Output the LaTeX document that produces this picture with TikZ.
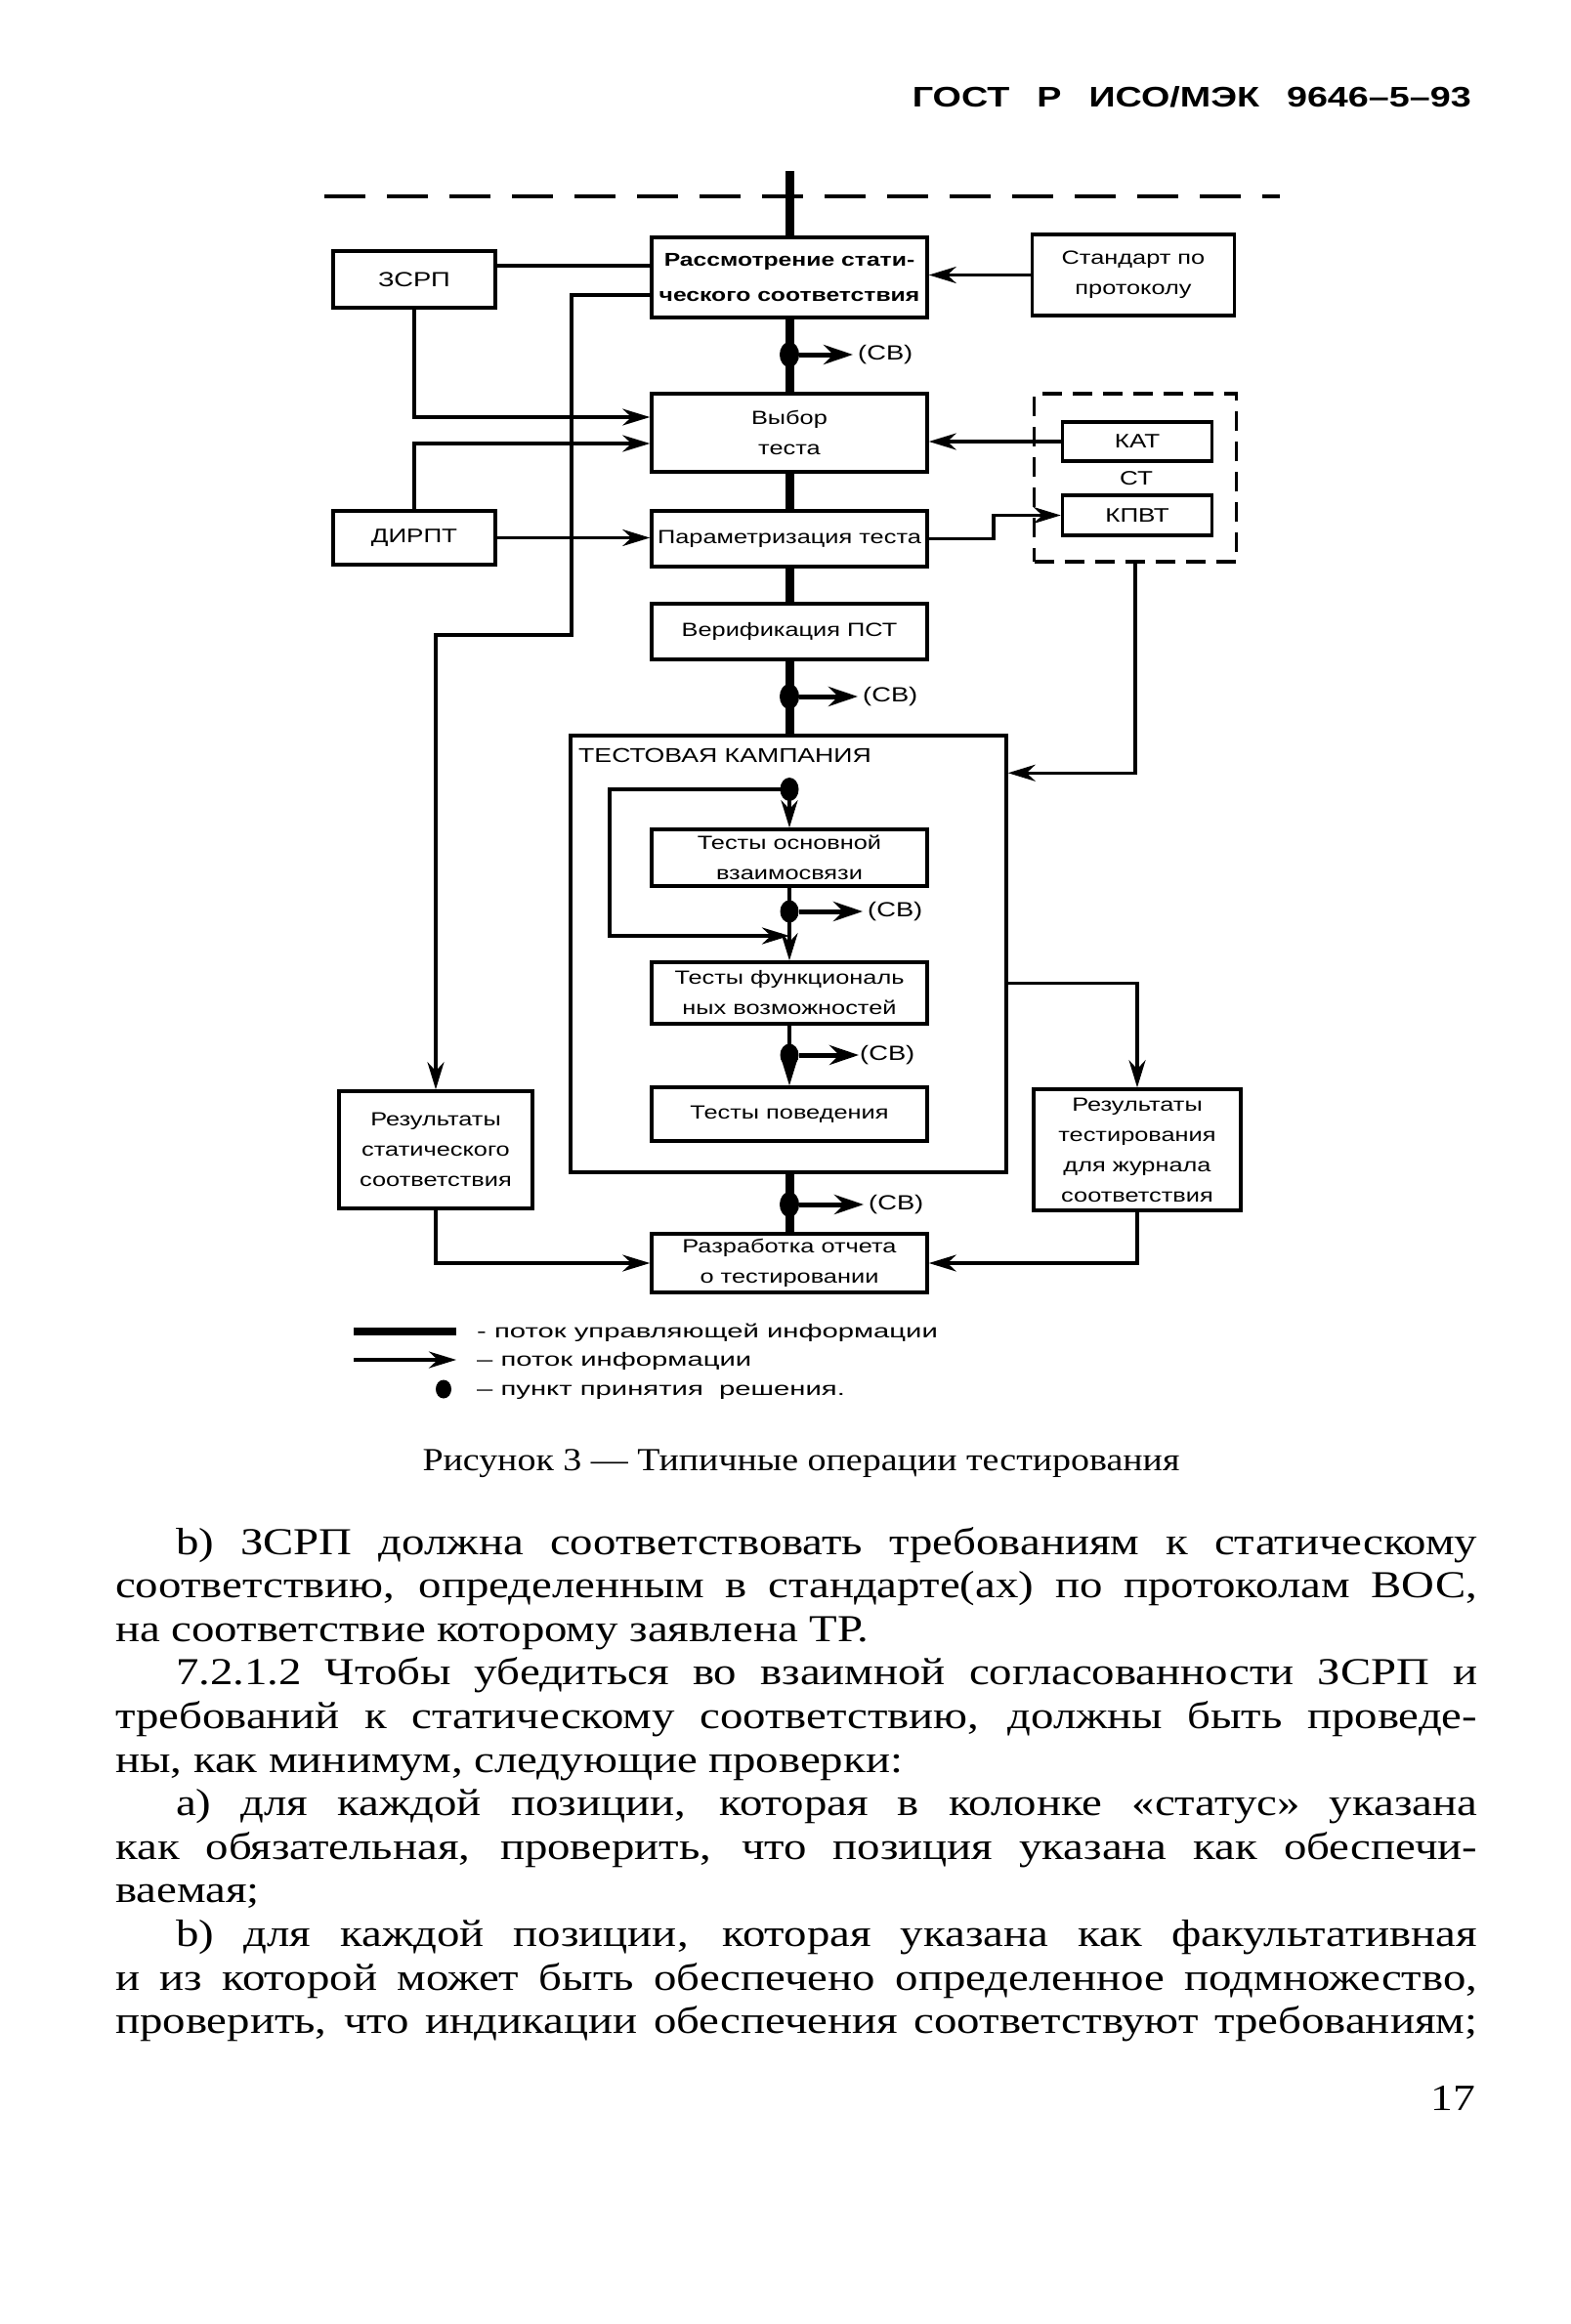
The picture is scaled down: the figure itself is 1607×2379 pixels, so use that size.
\documentclass[tikz,border=0pt]{standalone}
\usepackage{fontspec}
\setmainfont{Liberation Serif}
\newfontfamily\bodyf[FakeStretch=1.2]{Liberation Serif}
\newfontfamily\capf[FakeStretch=1.15]{Liberation Serif}
\newfontfamily\dsans[FakeStretch=1.3]{Liberation Sans}
\newfontfamily\lsans[FakeStretch=1.5]{Liberation Sans}
\newfontfamily\hdrf[FakeStretch=1.3]{Liberation Sans}
\usetikzlibrary{arrows.meta,shapes.geometric,calc}
\begin{document}
\begin{tikzpicture}[x=1pt,y=-1pt,
  box/.style={draw, line width=3.5pt, inner sep=0pt, align=center, font=\dsans\fontsize{19.5}{31}\selectfont},
  info/.style={line width=3.2pt, -{Stealth[length=28pt,width=17pt,inset=9pt]}},
  plainln/.style={line width=3.2pt},
  ctrl/.style={line width=9pt},
  innerln/.style={line width=4pt, -{Stealth[length=28pt,width=17pt,inset=9pt]}},
  cbar/.style={line width=5pt, -{Stealth[length=30pt,width=20pt,inset=10pt]}},
  dotn/.style={ellipse, fill=black, inner sep=0pt, minimum width=20pt, minimum height=26pt},
  cvlab/.style={anchor=west, inner sep=0pt, font=\dsans\fontsize{21}{26}\selectfont},
  bodyl/.style={anchor=base west, inner sep=0pt, font=\bodyf\fontsize{39}{44}\selectfont},
  leg/.style={anchor=base west, inner sep=0pt, font=\lsans\fontsize{19.5}{24}\selectfont},
  dashbox/.style={draw, line width=3.5pt, dash pattern=on 20pt off 11pt, inner sep=0pt}
]
\fill[white] (0,0) rectangle (1607,2379);
\useasboundingbox (0,0) rectangle (1607,2379);

% header
\node[anchor=base east, inner sep=0pt, font=\hdrf\bfseries\fontsize{29}{32}\selectfont] (hdr) at (1506,110)
  {\makebox[572pt][s]{ГОСТ Р ИСО/МЭК 9646–5–93}};

% top dashed line
\coordinate (tl) at (332,201);
\coordinate (tr) at (1310,201);
\draw[line width=3.5pt, dash pattern=on 42pt off 22pt] (tl) -- (tr);

% main column boxes
\node[box, font=\dsans\bfseries\fontsize{19}{36}\selectfont, minimum width=282pt, minimum height=82pt] (rs) at (808,284) {Рассмотрение стати-\\ческого соответствия};
\node[box, minimum width=282pt, minimum height=80pt] (vb) at (808,443) {Выбор\\теста};
\node[box, minimum width=282pt, minimum height=57pt] (pt) at (808,551.5) {Параметризация теста};
\node[box, minimum width=282pt, minimum height=57pt] (vf) at (808,646.5) {Верификация ПСТ};
\node[draw, line width=3.5pt, inner sep=0pt, minimum width=446pt, minimum height=447pt] (camp) at (807,976.5) {};
\node[anchor=west, inner sep=0pt, font=\dsans\fontsize{20.5}{24}\selectfont] (campl) at (592,773) {ТЕСТОВАЯ КАМПАНИЯ};
\node[box, minimum width=282pt, minimum height=58pt] (t1) at (808,878) {Тесты основной\\взаимосвязи};
\node[box, minimum width=282pt, minimum height=63pt] (t2) at (808,1016.5) {Тесты функциональ\\ных возможностей};
\node[box, minimum width=282pt, minimum height=55pt] (t3) at (808,1140.5) {Тесты поведения};
\node[box, minimum width=282pt, minimum height=60pt] (rep) at (808,1293) {Разработка отчета\\о тестировании};

% left boxes
\node[box, font=\dsans\fontsize{21}{26}\selectfont, minimum width=166pt, minimum height=58pt] (zs) at (424,286) {ЗСРП};
\node[box, font=\dsans\fontsize{20}{26}\selectfont, minimum width=166pt, minimum height=55pt] (dr) at (424,550.5) {ДИРПТ};
\node[box, minimum width=198pt, minimum height=120pt] (rsr) at (446,1177) {Результаты\\статического\\соответствия};

% right boxes
\node[box, minimum width=207pt, minimum height=83pt] (std) at (1160,281.5) {Стандарт по\\протоколу};
\node[dashbox, minimum width=207pt, minimum height=172pt] (ctb) at (1162,489) {};
\node[box, font=\dsans\fontsize{20}{26}\selectfont, minimum width=153pt, minimum height=40pt] (kat) at (1164,452) {КАТ};
\node[inner sep=0pt, font=\dsans\fontsize{20}{26}\selectfont] (ctl) at (1163,490) {СТ};
\node[box, font=\dsans\fontsize{20}{26}\selectfont, minimum width=153pt, minimum height=41pt] (kpvt) at (1164,527.5) {КПВТ};
\node[box, minimum width=212pt, minimum height=124pt] (rtr) at (1164,1177) {Результаты\\тестирования\\для журнала\\соответствия};

% coordinates
\coordinate (top) at (808,175);
\coordinate (c1) at (808,363);
\coordinate (c2) at (808,713);
\coordinate (cA) at (808,808);
\coordinate (c3) at (808,933);
\coordinate (c4) at (808,1080);
\coordinate (c5) at (808,1233);
\coordinate (j1) at (585,650);
\coordinate (j2) at (1017,551.5);
\coordinate (lb) at (624,958);
\coordinate (lc) at (808,958);

% control flow
\draw[ctrl] (top) -- (rs.north);
\draw[ctrl] (rs.south) -- (vb.north);
\draw[ctrl] (vb.south) -- (pt.north);
\draw[ctrl] (pt.south) -- (vf.north);
\draw[ctrl] (vf.south) -- (vf.south |- camp.north);
\draw[ctrl] (rep.north |- camp.south) -- (rep.north);

% information flow
\draw[plainln] ([yshift=14pt]zs.east) -- ([yshift=14pt]zs.east -| rs.west);
\draw[info] (std.west) -- (std.west -| rs.east);
\draw[info] ([yshift=-18pt]rs.west) -| (j1) -| (rsr.north);
\draw[info] (zs.south) |- ([yshift=16pt]vb.west);
\draw[info] (dr.north) |- ([yshift=-11pt]vb.west);
\draw[info] (dr.east) -- (dr.east -| pt.west);
\draw[info] (kat.west) -- (kat.west -| vb.east);
\draw[info] (pt.east) -- (j2) |- (kpvt.west);
\draw[info] (ctb.south) |- ($(camp.north east)+(0,40)$);
\draw[info] ($(camp.north east)+(0,255)$) -| (rtr.north);
\draw[info] (rsr.south) |- (rep.west);
\draw[info] (rtr.south) |- (rep.east);

% inside campaign
\draw[innerln] (cA) -- (t1.north);
\draw[innerln] (cA) -- (cA -| lb) -- (lb) -- (lc);
\draw[innerln] (t1.south) -- (t2.north);
\draw[innerln] (t2.south) -- (t3.north);

% decision points
\node[dotn] (d1) at (c1) {};
\node[dotn] (d2) at (c2) {};
\node[dotn, minimum width=19pt, minimum height=24pt] (dA) at (cA) {};
\node[dotn, minimum width=19pt, minimum height=23pt] (d3) at (c3) {};
\node[dotn, minimum width=19pt, minimum height=23pt] (d4) at (c4) {};
\node[dotn] (d5) at (c5) {};

\node[cvlab] (cv1) at (878,363) {(СВ)};
\node[cvlab] (cv2) at (883,713) {(СВ)};
\node[cvlab] (cv3) at (888,933) {(СВ)};
\node[cvlab] (cv4) at (880,1080) {(СВ)};
\node[cvlab] (cv5) at (889,1233) {(СВ)};
\draw[cbar] (d1.east) -- ([xshift=-5pt]cv1.west);
\draw[cbar] (d2.east) -- ([xshift=-5pt]cv2.west);
\draw[cbar] (d3.east) -- ([xshift=-5pt]cv3.west);
\draw[cbar] (d4.east) -- ([xshift=-1pt]cv4.west);
\draw[cbar] (d5.east) -- ([xshift=-5pt]cv5.west);

% legend
\coordinate (lga) at (362,1363);
\coordinate (lgb) at (467,1363);
\coordinate (lgc) at (362,1392);
\coordinate (lgd) at (467,1392);
\draw[line width=8pt] (lga) -- (lgb);
\draw[info] (lgc) -- (lgd);
\node[dotn, minimum width=16pt, minimum height=19pt] (lgdot) at (454,1422) {};
\node[leg] (lt1) at (488,1369) {- поток управляющей информации};
\node[leg] (lt2) at (488,1398) {– поток информации};
\node[leg] (lt3) at (488,1428) {– пункт принятия \ решения.};

% caption
\node[anchor=base, inner sep=0pt, font=\capf\fontsize{33}{40}\selectfont] (cap) at (820,1505) {Рисунок 3 — Типичные операции тестирования};

% body text
\node[bodyl] (p1) at (180,1591) {\makebox[1332pt][s]{b) ЗСРП должна соответствовать требованиям к статическому}};
\node[bodyl] (p2) at (118,1635.6) {\makebox[1394pt][s]{соответствию, определенным в стандарте(ах) по протоколам ВОС,}};
\node[bodyl] (p3) at (118,1680.2) {на соответствие которому заявлена ТР.};
\node[bodyl] (p4) at (180,1724.8) {\makebox[1332pt][s]{7.2.1.2 Чтобы убедиться во взаимной согласованности ЗСРП и}};
\node[bodyl] (p5) at (118,1769.4) {\makebox[1394pt][s]{требований к статическому соответствию, должны быть проведе-}};
\node[bodyl] (p6) at (118,1814) {ны, как минимум, следующие проверки:};
\node[bodyl] (p7) at (180,1858.6) {\makebox[1332pt][s]{а) для каждой позиции, которая в колонке «статус» указана}};
\node[bodyl] (p8) at (118,1903.2) {\makebox[1394pt][s]{как обязательная, проверить, что позиция указана как обеспечи-}};
\node[bodyl] (p9) at (118,1947.8) {ваемая;};
\node[bodyl] (p10) at (180,1992.4) {\makebox[1332pt][s]{b) для каждой позиции, которая указана как факультативная}};
\node[bodyl] (p11) at (118,2037) {\makebox[1394pt][s]{и из которой может быть обеспечено определенное подмножество,}};
\node[bodyl] (p12) at (118,2081.6) {\makebox[1394pt][s]{проверить, что индикации обеспечения соответствуют требованиям;}};

\node[anchor=base east, inner sep=0pt, font=\bodyf\fontsize{38}{44}\selectfont] (pg) at (1510,2160) {17};
\end{tikzpicture}
\end{document}
